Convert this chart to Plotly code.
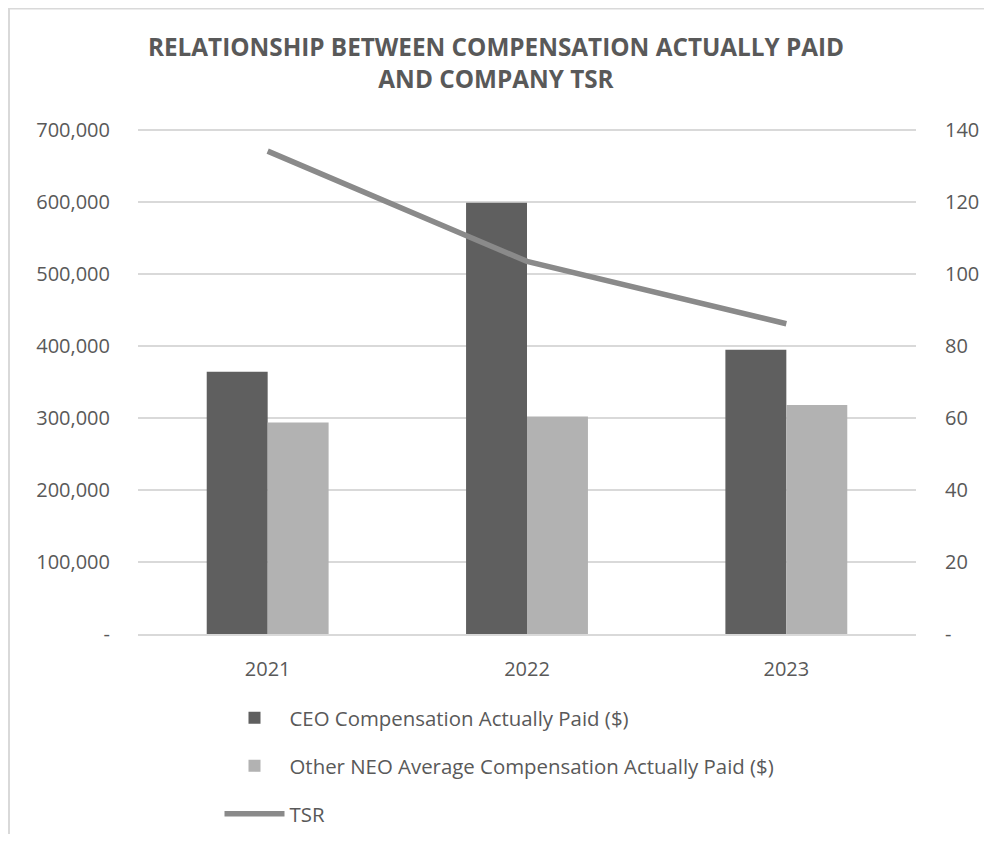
import plotly.graph_objects as go

years = ["2021", "2022", "2023"]
ceo_cap = [364000, 598500, 394500]
neo_cap = [293500, 301800, 317600]
tsr = [134.0, 103.4, 86.1]

left_tickvals = [0, 100000, 200000, 300000, 400000, 500000, 600000, 700000]
left_ticktext = ["-", "100,000", "200,000", "300,000", "400,000", "500,000", "600,000", "700,000"]
right_tickvals = [0, 20, 40, 60, 80, 100, 120, 140]
right_ticktext = ["-", "20", "40", "60", "80", "100", "120", "140"]

TXT = "#595959"
FONT = "Open Sans"
W, H = 976, 826
LEFT_MAX = 702100
RIGHT_MAX = 140 * LEFT_MAX / 700000
PW = 778
PH = 504 * LEFT_MAX / 700000
T = 826 - 200 - PH

fig = go.Figure()
fig.add_trace(go.Bar(x=years, y=ceo_cap, name="CEO Compensation Actually Paid ($)",
                     marker=dict(color="#5f5f5f", line=dict(width=0)), legendgroup="a"))
fig.add_trace(go.Bar(x=years, y=neo_cap, name="Other NEO Average Compensation Actually Paid ($)",
                     marker=dict(color="#b2b2b2", line=dict(width=0)), legendgroup="b"))
fig.add_trace(go.Scatter(x=years, y=tsr, name="TSR", mode="lines", yaxis="y2",
                         line=dict(color="#8a8a8a", width=5.5), legendgroup="c"))

fig.update_layout(
    width=W, height=H,
    paper_bgcolor="white", plot_bgcolor="white",
    margin=dict(l=130, r=68, t=T, b=200, autoexpand=False),
    barmode="group", bargap=0.53, bargroupgap=0,
    font=dict(family=FONT, color=TXT, size=20),
    title=dict(text="<b>RELATIONSHIP BETWEEN COMPENSATION ACTUALLY PAID<br>AND COMPANY TSR</b>",
               x=0.5, xanchor="center", y=(H - 48) / H, yanchor="middle",
               font=dict(family=FONT, size=24.3, color=TXT)),
    xaxis=dict(showgrid=False, showline=True, linecolor="#d9d9d9", linewidth=1.5,
               ticks="", ticklabelstandoff=16, automargin=False,
               tickfont=dict(size=20, color=TXT)),
    yaxis=dict(range=[0, LEFT_MAX], tickvals=left_tickvals, ticktext=left_ticktext,
               showgrid=True, gridcolor="#d9d9d9", gridwidth=1.5, zeroline=False,
               showline=False, ticks="", ticklabelstandoff=27, automargin=False,
               tickfont=dict(size=20, color=TXT)),
    yaxis2=dict(range=[0, RIGHT_MAX], tickvals=right_tickvals, ticktext=right_ticktext,
                overlaying="y", side="right", showgrid=False, zeroline=False,
                showline=False, ticks="", ticklabelstandoff=28, automargin=False,
                tickfont=dict(size=20, color=TXT)),
    legend=dict(orientation="v", xref="container", yref="container",
                x=211.5 / W, xanchor="left", y=1 - 690 / H, yanchor="top",
                font=dict(size=20.4, color=TXT), tracegroupgap=18.5, itemwidth=60,
                bgcolor="rgba(0,0,0,0)"),
    showlegend=True,
)

fig.add_shape(type="rect", xref="paper", yref="paper",
              x0=(1 - 130) / PW, x1=(1100 - 130) / PW,
              y0=-400 / PH, y1=(626 - 1) / PH,
              line=dict(color="#d9d9d9", width=2), fillcolor="rgba(0,0,0,0)", layer="below")

fig.write_html("out.html")
